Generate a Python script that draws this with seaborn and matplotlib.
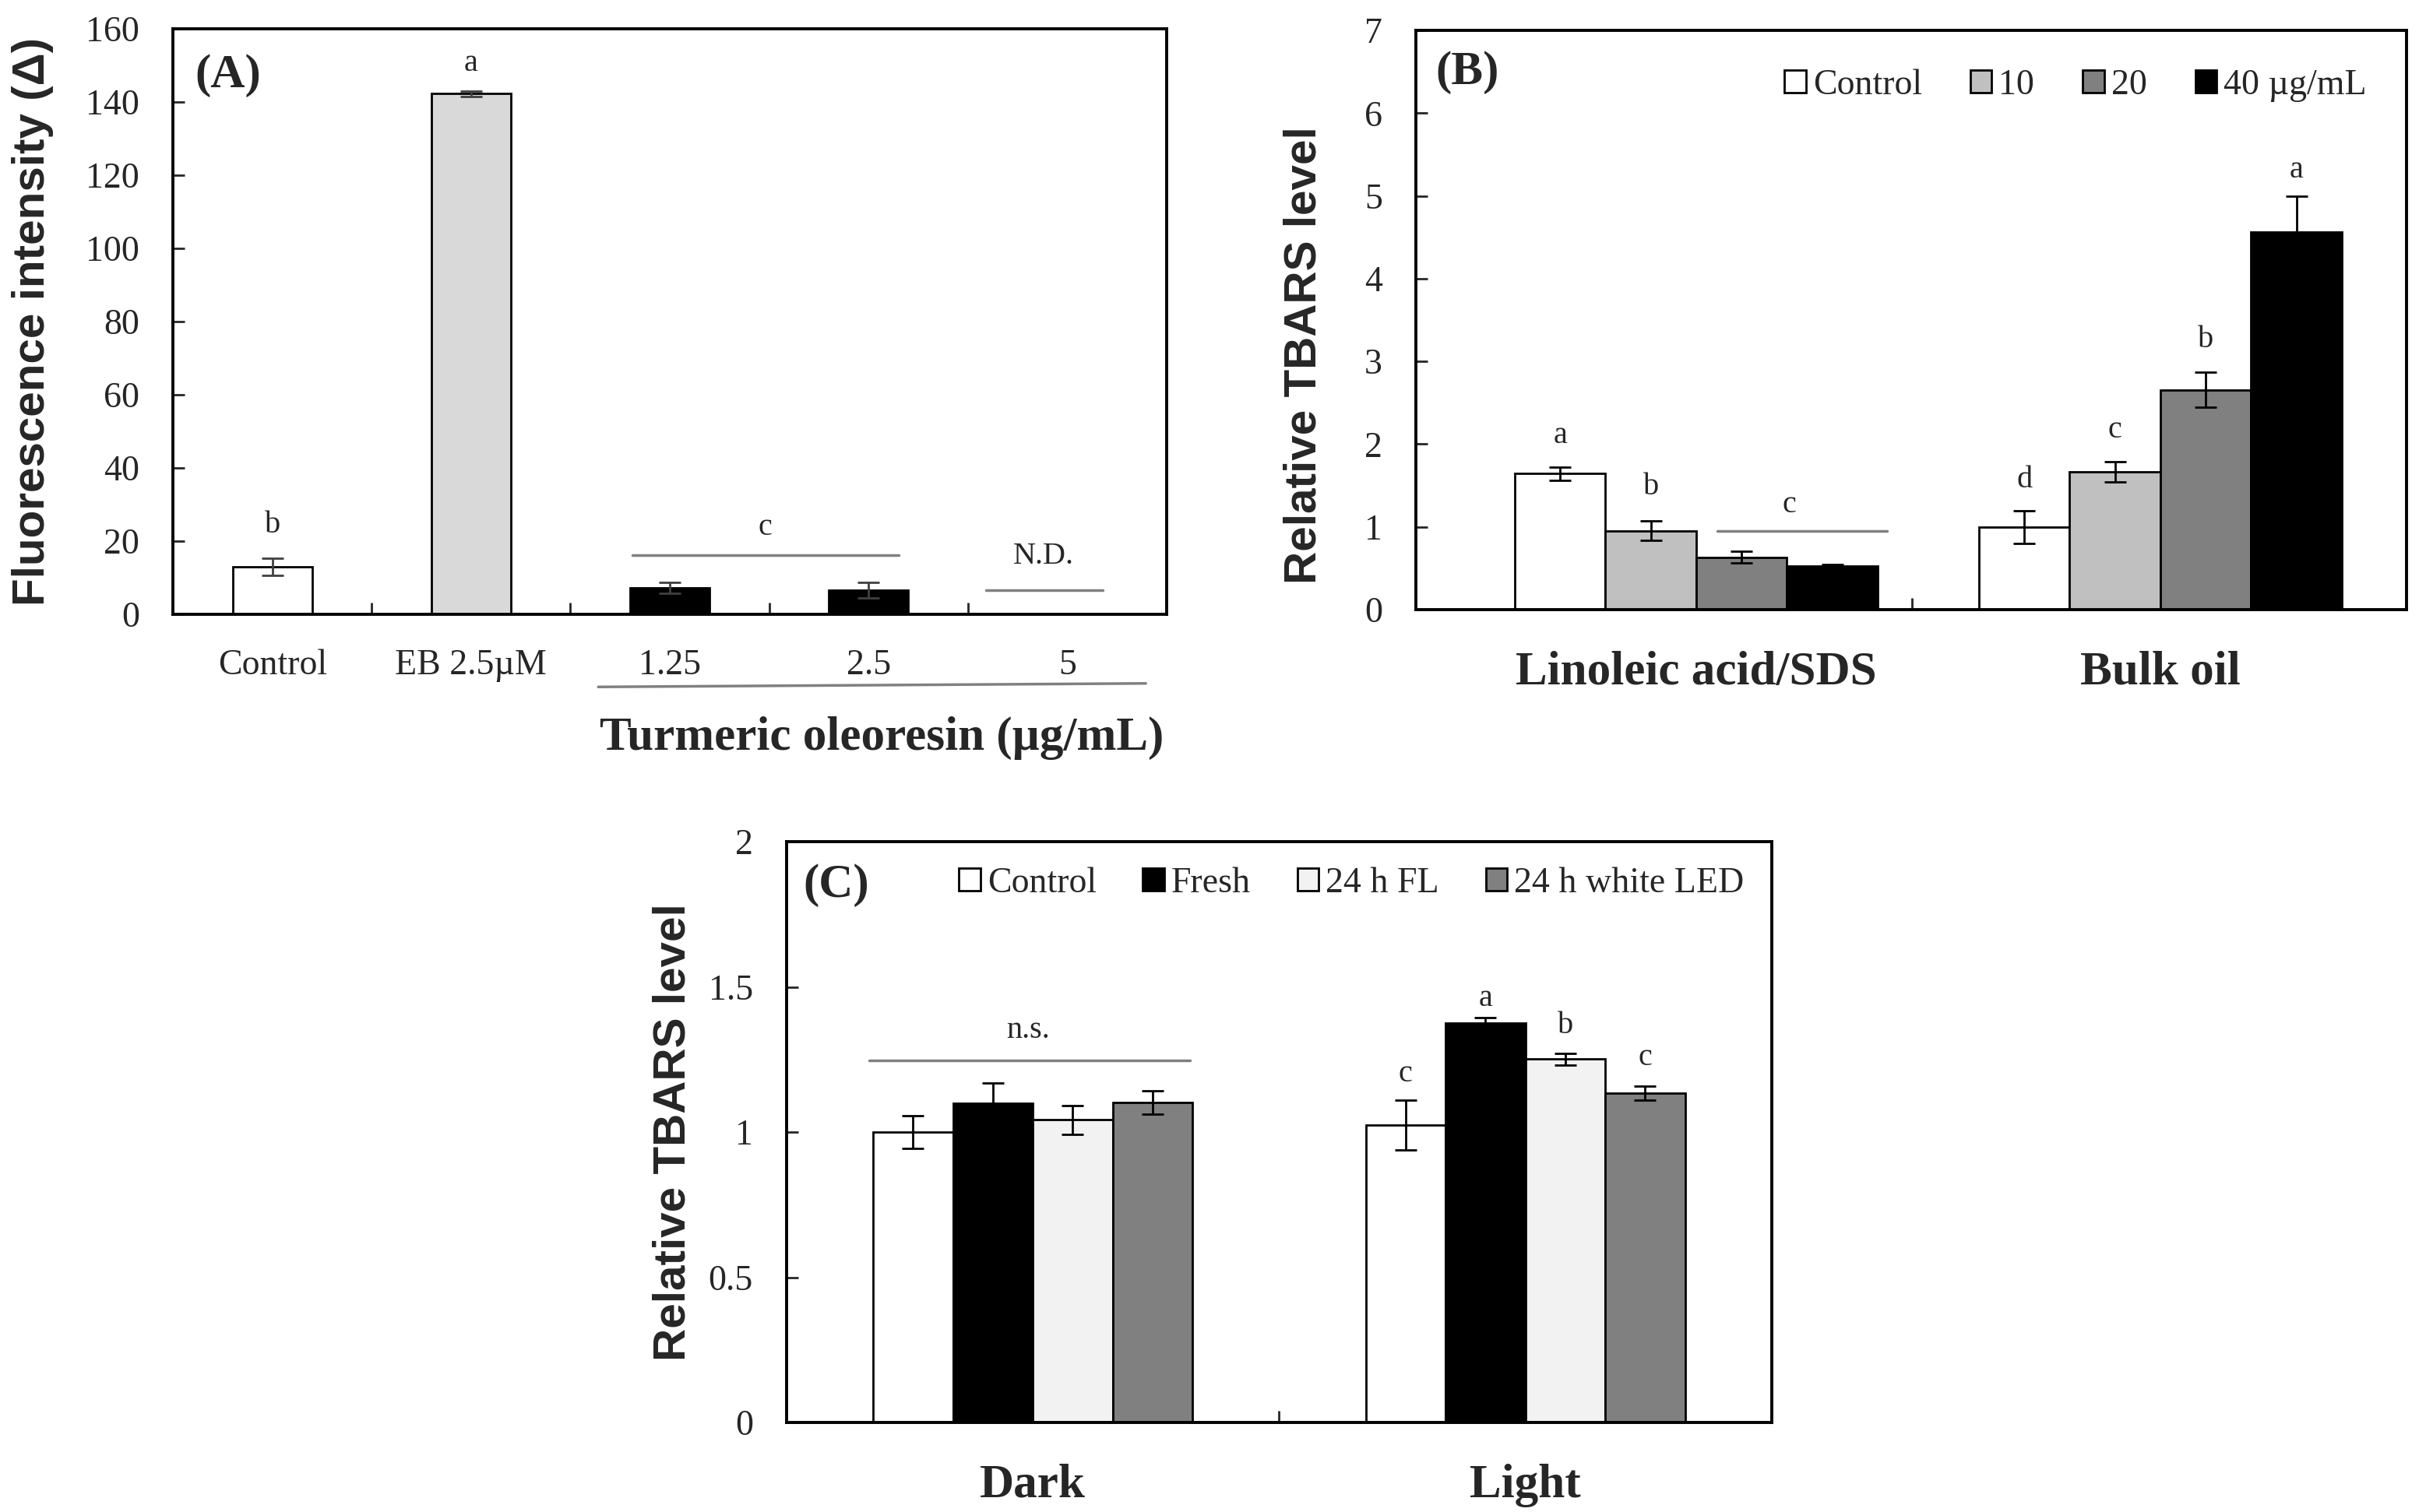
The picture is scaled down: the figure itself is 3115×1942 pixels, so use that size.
import numpy as np
import pandas as pd
import matplotlib
matplotlib.use("Agg")
import matplotlib.pyplot as plt
import seaborn as sns
from matplotlib.ticker import FixedLocator
from matplotlib.container import BarContainer

# ---------------- data ----------------
# Panel A
a_categories = ["Control", "EB 2.5µM", "1.25", "2.5", "5"]
a_values = [13.0, 142.3, 7.2, 6.6, 0.0]
a_errors = [2.3, 0.8, 1.5, 2.1, 0.0]
a_colors = ["#ffffff", "#d9d9d9", "#000000", "#000000", "#000000"]
a_yticks = [0, 20, 40, 60, 80, 100, 120, 140, 160]
a_letter_text = ["b", "a", "c", "N.D."]
a_letter_x = [0.0, 1.0, 2.48, 3.88]
a_letter_y = [24.3, 150.6, 23.8, 15.8]
a_line_x0 = [1.81, 3.59]
a_line_x1 = [3.15, 4.18]
a_line_y = [16.2, 6.6]

# Panel B
b_groups = ["Linoleic acid/SDS", "Bulk oil"]
b_levels = ["Control", "10", "20", "40 µg/mL"]
b_linoleic = [1.645, 0.955, 0.635, 0.53]
b_linoleic_err = [0.08, 0.12, 0.07, 0.015]
b_bulk = [0.997, 1.665, 2.656, 4.567]
b_bulk_err = [0.20, 0.12, 0.21, 0.43]
b_colors = ["#ffffff", "#c0c0c0", "#808080", "#000000"]
b_yticks = [0, 1, 2, 3, 4, 5, 6, 7]
b_letters_linoleic = ["a", "b", "", ""]
b_letters_linoleic_y = [2.10, 1.48, 0, 0]
b_letters_bulk = ["d", "c", "b", "a"]
b_letters_bulk_y = [1.57, 2.17, 3.26, 5.31]
b_c_text = "c"
b_c_x = 0.20
b_c_y = 1.27
b_c_line = (0.045, 0.411, 0.955)

# Panel C
c_groups = ["Dark", "Light"]
c_levels = ["Control", "Fresh", "24 h FL", "24 h white LED"]
c_dark = [1.0, 1.10, 1.042, 1.101]
c_dark_err = [0.057, 0.07, 0.05, 0.04]
c_light = [1.024, 1.375, 1.252, 1.134]
c_light_err = [0.085, 0.02, 0.02, 0.025]
c_colors = ["#ffffff", "#000000", "#f2f2f2", "#808080"]
c_yticks = [0, 0.5, 1, 1.5, 2]
c_yticklabels = ["0", "0.5", "1", "1.5", "2"]
c_letters_light = ["c", "a", "b", "c"]
c_letters_light_y = [1.20, 1.46, 1.365, 1.255]
c_ns_text = "n.s."
c_ns_x = -0.01
c_ns_y = 1.35
c_ns_line = (-0.332, 0.319, 1.246)

# ---------------- style ----------------
sns.set_style("white")
plt.rcParams["font.family"] = ["Liberation Serif", "DejaVu Serif"]
plt.rcParams["mathtext.default"] = "regular"
SANS = ["Liberation Sans", "DejaVu Sans"]
TICK_FS = 33
BOLD_FS = 44
YLAB_FS = 42
ANN_FS = 29
SPINE_LW = 2.8
EDGE_LW = 2.0
LINE_GRAY = "#808080"

fig = plt.figure(figsize=(31.15, 19.42), dpi=100)
axA = fig.add_axes([0.0713, 0.5937, 0.4096, 0.3872])
axB = fig.add_axes([0.5836, 0.5968, 0.4083, 0.3831])
axC = fig.add_axes([0.3242, 0.0592, 0.4061, 0.3841])


def style_axes(ax, minor_x, ylim, yticks, yticklabels=None):
    for s in ax.spines.values():
        s.set_visible(True)
        s.set_color("black")
        s.set_linewidth(SPINE_LW)
    ax.set_ylim(*ylim)
    ax.set_yticks(yticks)
    if yticklabels is not None:
        ax.set_yticklabels(yticklabels)
    ax.tick_params(axis="y", which="major", direction="in", length=11, width=2,
                   pad=31, labelsize=TICK_FS, left=True, right=False)
    ax.tick_params(axis="x", which="major", length=0, labelsize=TICK_FS)
    ax.xaxis.set_minor_locator(FixedLocator(minor_x))
    ax.tick_params(axis="x", which="minor", direction="in", length=11, width=2,
                   bottom=True, top=False)
    ax.set_xlabel("")
    ax.grid(False)


def bar_containers(ax):
    return [c for c in ax.containers if isinstance(c, BarContainer)]


# ---------------- Panel A ----------------
dfA = pd.DataFrame({"cat": a_categories, "val": a_values})
sns.barplot(data=dfA, x="cat", y="val", hue="cat", palette=a_colors,
            width=0.4, legend=False, errorbar=None, edgecolor="black",
            linewidth=EDGE_LW, ax=axA, zorder=2)
axA.set_xlim(-0.5, 4.5)
style_axes(axA, [0.5, 1.5, 2.5, 3.5], (0, 160), a_yticks)
axA.tick_params(axis="x", which="major", pad=32)
for cont in bar_containers(axA):
    for bar in cont:
        xc = bar.get_x() + bar.get_width() / 2
        i = int(round(xc))
        if a_errors[i] > 0:
            axA.errorbar(xc, a_values[i], yerr=a_errors[i], color="#404040",
                         elinewidth=2, capsize=10, capthick=2, zorder=3)
for t, x, y in zip(a_letter_text, a_letter_x, a_letter_y):
    axA.text(x, y, t, ha="center", va="center", fontsize=ANN_FS)
for x0, x1, y in zip(a_line_x0, a_line_x1, a_line_y):
    axA.plot([x0, x1], [y, y], color=LINE_GRAY, lw=2.5, zorder=3)
axA.set_ylabel("Fluorescence intensity (Δ)", fontsize=YLAB_FS,
               fontweight="bold", family=SANS)
axA.yaxis.set_label_coords(-0.141, 0.5)
axA.yaxis.label.set_verticalalignment("center")
axA.text(0.713, -0.211, "Turmeric oleoresin (µg/mL)", transform=axA.transAxes,
         ha="center", va="center", fontsize=BOLD_FS, fontweight="bold")
axA.plot([0.428, 0.979], [-0.124, -0.118], transform=axA.transAxes,
         color=LINE_GRAY, lw=2.5, clip_on=False)
axA.text(0.022, 0.92, "(A)", transform=axA.transAxes, ha="left", va="center",
         fontsize=BOLD_FS, fontweight="bold")

# ---------------- Panel B ----------------
dfB = pd.DataFrame({
    "group": np.repeat(b_groups, len(b_levels)),
    "level": b_levels * len(b_groups),
    "val": b_linoleic + b_bulk,
})
b_err = [b_linoleic_err, b_bulk_err]
sns.barplot(data=dfB, x="group", y="val", hue="level", hue_order=b_levels,
            palette=b_colors, width=0.782, gap=0, legend=False, errorbar=None,
            edgecolor="black", linewidth=EDGE_LW, ax=axB, zorder=2)
axB.set_xlim(-0.604, 1.530)
style_axes(axB, [0.465], (0, 7), b_yticks)
axB.tick_params(axis="x", which="major", pad=38)
for lab in axB.get_xticklabels():
    lab.set_fontweight("bold")
    lab.set_fontsize(BOLD_FS)
b_letters = [b_letters_linoleic, b_letters_bulk]
b_letters_y = [b_letters_linoleic_y, b_letters_bulk_y]
b_bars = bar_containers(axB)
for j, cont in enumerate(b_bars):
    for i, bar in enumerate(cont):
        xc = bar.get_x() + bar.get_width() / 2
        axB.errorbar(xc, bar.get_height(), yerr=b_err[i][j], color="black",
                     elinewidth=2, capsize=10, capthick=2, zorder=3)
        if b_letters[i][j]:
            axB.text(xc, b_letters_y[i][j], b_letters[i][j], ha="center",
                     va="center", fontsize=ANN_FS)
axB.text(b_c_x, b_c_y, b_c_text, ha="center", va="center", fontsize=ANN_FS)
axB.plot([b_c_line[0], b_c_line[1]], [b_c_line[2], b_c_line[2]],
         color=LINE_GRAY, lw=2.5, zorder=3)
axB.set_ylabel("Relative TBARS level", fontsize=YLAB_FS, fontweight="bold",
               family=SANS)
axB.yaxis.set_label_coords(-0.113, 0.44)
axB.yaxis.label.set_verticalalignment("center")
axB.text(0.02, 0.927, "(B)", transform=axB.transAxes, ha="left", va="center",
         fontsize=BOLD_FS, fontweight="bold")
axB.legend(handles=b_bars, labels=b_levels, ncol=4,
           loc="center right", bbox_to_anchor=(0.96, 0.905), frameon=False,
           fontsize=TICK_FS, handlelength=0.6, handleheight=0.6,
           handletextpad=0.2, columnspacing=1.35, borderpad=0, borderaxespad=0)

# ---------------- Panel C ----------------
dfC = pd.DataFrame({
    "group": np.repeat(c_groups, len(c_levels)),
    "level": c_levels * len(c_groups),
    "val": c_dark + c_light,
})
c_err = [c_dark_err, c_light_err]
sns.barplot(data=dfC, x="group", y="val", hue="level", hue_order=c_levels,
            palette=c_colors, width=0.648, gap=0, legend=False, errorbar=None,
            edgecolor="black", linewidth=EDGE_LW, ax=axC, zorder=2)
axC.set_xlim(-0.5, 1.5)
style_axes(axC, [0.5], (0, 2), c_yticks, c_yticklabels)
axC.tick_params(axis="x", which="major", pad=38)
for lab in axC.get_xticklabels():
    lab.set_fontweight("bold")
    lab.set_fontsize(BOLD_FS)
c_bars = bar_containers(axC)
for j, cont in enumerate(c_bars):
    for i, bar in enumerate(cont):
        xc = bar.get_x() + bar.get_width() / 2
        axC.errorbar(xc, bar.get_height(), yerr=c_err[i][j], color="black",
                     elinewidth=2, capsize=10, capthick=2, zorder=3)
        if i == 1:
            axC.text(xc, c_letters_light_y[j], c_letters_light[j], ha="center",
                     va="center", fontsize=ANN_FS)
axC.text(c_ns_x, c_ns_y, c_ns_text, ha="center", va="center", fontsize=ANN_FS)
axC.plot([c_ns_line[0], c_ns_line[1]], [c_ns_line[2], c_ns_line[2]],
         color=LINE_GRAY, lw=2.5, zorder=3)
axC.set_ylabel("Relative TBARS level", fontsize=YLAB_FS, fontweight="bold",
               family=SANS)
axC.yaxis.set_label_coords(-0.115, 0.5)
axC.yaxis.label.set_verticalalignment("center")
axC.text(0.017, 0.925, "(C)", transform=axC.transAxes, ha="left", va="center",
         fontsize=BOLD_FS, fontweight="bold")
axC.legend(handles=c_bars, labels=c_levels, ncol=4,
           loc="center right", bbox_to_anchor=(0.972, 0.928), frameon=False,
           fontsize=TICK_FS, handlelength=0.6, handleheight=0.6,
           handletextpad=0.2, columnspacing=1.3, borderpad=0, borderaxespad=0)

fig.savefig("out.png", dpi=100, facecolor="white")
